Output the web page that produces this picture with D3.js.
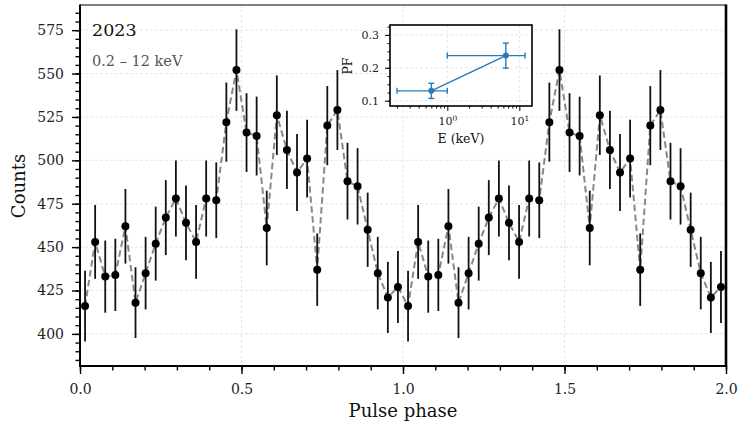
<!DOCTYPE html>
<html lang="en">
<head>
<meta charset="UTF-8">
<title>Pulse profile 2023</title>
<script src="https://d3js.org/d3.v7.min.js"></script>
<style>
  body { margin: 0; background: #fff; }
  svg text { font-family: "DejaVu Serif", serif; }
</style>
</head>
<body>
<div id="chart"></div>
<script>
// pulse profile, one cycle (32 bins), drawn twice
const counts = [416, 453, 433, 434, 462, 418, 435, 452, 467, 478, 464, 453, 478, 477, 522, 552,
                516, 514, 461, 526, 506, 493, 501, 437, 520, 529, 488, 485, 460, 435, 421, 427];
const countErr = [20.4, 21.3, 20.8, 20.8, 21.5, 20.4, 20.9, 21.3, 21.6, 21.9, 21.5, 21.3, 21.9, 21.8, 22.8, 23.5,
                  22.7, 22.7, 21.5, 22.9, 22.5, 22.2, 22.4, 20.9, 22.8, 23.0, 22.1, 22.0, 21.4, 20.9, 20.5, 20.7];
const nCycles = 2;
const xTicks = [0, 0.5, 1.0, 1.5, 2.0];
const yTicks = [400, 425, 450, 475, 500, 525, 550, 575];

// inset: pulsed fraction vs energy
const pfEnergy = [0.6, 6.5];
const pfELow = [0.2, 1.0];
const pfEHigh = [1.0, 12.0];
const pfValue = [0.130, 0.237];
const pfErr = [0.023, 0.038];
const pfTicks = [0.1, 0.2, 0.3];

const W = 738, H = 424;
const m = {left: 80, right: 726, top: 5, bottom: 366};

const svg = d3.select("#chart").append("svg")
    .attr("width", W).attr("height", H);

const x = d3.scaleLinear().domain([0, 2]).range([m.left, m.right]);
const y = d3.scaleLinear().domain([381.5, 589.5]).range([m.bottom, m.top]);

const pts = [];
for (let c = 0; c < nCycles; c++) {
    counts.forEach((v, i) => pts.push({phase: c + (i + 0.5) / counts.length, v: v, e: countErr[i]}));
}

// grid
const grid = svg.append("g").attr("stroke", "#e0e0e0").attr("stroke-width", 0.8).attr("stroke-dasharray", "3,2");
grid.selectAll(".gx").data(xTicks.slice(1, -1)).enter().append("line")
    .attr("x1", d => x(d)).attr("x2", d => x(d)).attr("y1", m.top).attr("y2", m.bottom);
grid.selectAll(".gy").data(yTicks).enter().append("line")
    .attr("x1", m.left).attr("x2", m.right).attr("y1", d => y(d)).attr("y2", d => y(d));

// axes
svg.append("g").attr("transform", `translate(0,${m.bottom})`)
    .call(d3.axisBottom(x).tickValues(xTicks).tickFormat(d3.format(".1f")).tickSize(8).tickPadding(10));
svg.append("g").attr("transform", `translate(0,${m.bottom})`)
    .call(d3.axisBottom(x).tickValues(d3.range(0, 2.01, 0.1)).tickFormat("").tickSize(4.5));
svg.append("g").attr("transform", `translate(${m.left},0)`)
    .call(d3.axisLeft(y).tickValues(yTicks).tickSize(8).tickPadding(8));
svg.append("g").attr("transform", `translate(${m.left},0)`)
    .call(d3.axisLeft(y).tickValues(d3.range(385, 590, 5)).tickFormat("").tickSize(4.5));
svg.selectAll(".domain").remove();
svg.selectAll(".tick line").attr("stroke", "#000").attr("stroke-width", 1.4);
svg.selectAll(".tick text").attr("fill", "#222").style("font-size", "14px").style("font-family", "DejaVu Serif");

// dashed profile line
svg.append("path").datum(pts)
    .attr("fill", "none").attr("stroke", "#888").attr("stroke-width", 2).attr("stroke-dasharray", "6.5,3.5")
    .attr("d", d3.line().x(d => x(d.phase)).y(d => y(d.v)));

// error bars + points
svg.append("g").selectAll("line").data(pts).enter().append("line")
    .attr("x1", d => x(d.phase)).attr("x2", d => x(d.phase))
    .attr("y1", d => y(d.v - d.e)).attr("y2", d => y(d.v + d.e))
    .attr("stroke", "#111").attr("stroke-width", 1.8);
svg.append("g").selectAll("circle").data(pts).enter().append("circle")
    .attr("cx", d => x(d.phase)).attr("cy", d => y(d.v)).attr("r", 4).attr("fill", "#000");

// spines
svg.append("line").attr("x1", m.left).attr("x2", m.right).attr("y1", m.top).attr("y2", m.top).attr("stroke", "#000").attr("stroke-width", 1.2);
svg.append("line").attr("x1", m.right).attr("x2", m.right).attr("y1", m.top - 0.6).attr("y2", m.bottom + 1).attr("stroke", "#000").attr("stroke-width", 2.6);
svg.append("line").attr("x1", m.left).attr("x2", m.left).attr("y1", m.top - 0.6).attr("y2", m.bottom + 1).attr("stroke", "#000").attr("stroke-width", 2);
svg.append("line").attr("x1", m.left - 1).attr("x2", m.right).attr("y1", m.bottom).attr("y2", m.bottom).attr("stroke", "#000").attr("stroke-width", 2);

// labels
svg.append("text").attr("x", 403).attr("y", 417).attr("text-anchor", "middle")
    .style("font-size", "18px").attr("fill", "#111").text("Pulse phase");
svg.append("text").attr("transform", `translate(24.5,186) rotate(-90)`)
    .attr("text-anchor", "middle").style("font-size", "18px").attr("fill", "#111").text("Counts");
svg.append("text").attr("x", 92).attr("y", 36).style("font-size", "17.5px").attr("fill", "#111").text("2023");
svg.append("text").attr("x", 92).attr("y", 65.5).style("font-size", "14.5px").attr("fill", "#555").text("0.2 – 12 keV");

// inset
const ins = {left: 390, right: 532, top: 25, bottom: 106};
svg.append("rect").attr("x", ins.left).attr("y", ins.top)
    .attr("width", ins.right - ins.left).attr("height", ins.bottom - ins.top).attr("fill", "#fff");
const ix = d3.scaleLog().domain([0.16, 15]).range([ins.left, ins.right]);
const iy = d3.scaleLinear().domain([0.084, 0.330]).range([ins.bottom, ins.top]);
const ig = svg.append("g");
const igrid = ig.append("g").attr("stroke", "#e0e0e0").attr("stroke-width", 0.8).attr("stroke-dasharray", "3,2");
igrid.selectAll(".a").data([1, 10]).enter().append("line")
    .attr("x1", d => ix(d)).attr("x2", d => ix(d)).attr("y1", ins.top).attr("y2", ins.bottom);
igrid.selectAll(".b").data(pfTicks).enter().append("line")
    .attr("x1", ins.left).attr("x2", ins.right).attr("y1", d => iy(d)).attr("y2", d => iy(d));

const minorE = [0.2, 0.3, 0.4, 0.5, 0.6, 0.7, 0.8, 0.9, 2, 3, 4, 5, 6, 7, 8, 9];
const exAxis = ig.append("g").attr("transform", `translate(0,${ins.bottom})`)
    .call(d3.axisBottom(ix).tickValues([1, 10]).tickSize(5).tickPadding(7).tickFormat(""));
exAxis.selectAll(".tick").append("text")
    .attr("y", 19).attr("text-anchor", "middle").attr("fill", "#222").style("font-size", "11px")
    .each(function(d) {
        const t = d3.select(this);
        t.append("tspan").text("10");
        t.append("tspan").attr("dy", -4.5).style("font-size", "7.5px").text(Math.round(Math.log10(d)));
    });
ig.append("g").attr("transform", `translate(0,${ins.bottom})`)
    .call(d3.axisBottom(ix).tickValues(minorE).tickSize(2.5).tickFormat(""));
ig.append("g").attr("transform", `translate(${ins.left},0)`)
    .call(d3.axisLeft(iy).tickValues(pfTicks).tickSize(5).tickPadding(6).tickFormat(d3.format(".1f")));
ig.append("g").attr("transform", `translate(${ins.left},0)`)
    .call(d3.axisLeft(iy).tickValues(d3.range(0.1, 0.33, 0.025)).tickSize(2.5).tickFormat(""));
ig.selectAll(".domain").remove();
ig.selectAll(".tick line").attr("stroke", "#000").attr("stroke-width", 1);
ig.selectAll(".tick > text").attr("fill", "#222").style("font-size", "11px").style("font-family", "DejaVu Serif");

const blue = "#2a7ab8";
const pf = pfValue.map((v, i) => ({e: pfEnergy[i], lo: pfELow[i], hi: pfEHigh[i], v: v, err: pfErr[i]}));
ig.append("path").datum(pf).attr("fill", "none").attr("stroke", blue).attr("stroke-width", 1.4)
    .attr("d", d3.line().x(d => ix(d.e)).y(d => iy(d.v)));
const eb = ig.append("g").attr("stroke", blue).attr("stroke-width", 1.4);
pf.forEach(d => {
    eb.append("line").attr("x1", ix(d.lo)).attr("x2", ix(d.hi)).attr("y1", iy(d.v)).attr("y2", iy(d.v));
    eb.append("line").attr("x1", ix(d.lo)).attr("x2", ix(d.lo)).attr("y1", iy(d.v) - 3).attr("y2", iy(d.v) + 3);
    eb.append("line").attr("x1", ix(d.hi)).attr("x2", ix(d.hi)).attr("y1", iy(d.v) - 3).attr("y2", iy(d.v) + 3);
    eb.append("line").attr("x1", ix(d.e)).attr("x2", ix(d.e)).attr("y1", iy(d.v - d.err)).attr("y2", iy(d.v + d.err));
    eb.append("line").attr("x1", ix(d.e) - 3).attr("x2", ix(d.e) + 3).attr("y1", iy(d.v - d.err)).attr("y2", iy(d.v - d.err));
    eb.append("line").attr("x1", ix(d.e) - 3).attr("x2", ix(d.e) + 3).attr("y1", iy(d.v + d.err)).attr("y2", iy(d.v + d.err));
});
ig.append("g").selectAll("circle").data(pf).enter().append("circle")
    .attr("cx", d => ix(d.e)).attr("cy", d => iy(d.v)).attr("r", 3).attr("fill", blue);

ig.append("rect").attr("x", ins.left).attr("y", ins.top)
    .attr("width", ins.right - ins.left).attr("height", ins.bottom - ins.top)
    .attr("fill", "none").attr("stroke", "#000").attr("stroke-width", 1.6);
ig.append("text").attr("x", (ins.left + ins.right) / 2).attr("y", 143).attr("text-anchor", "middle")
    .style("font-size", "12.5px").attr("fill", "#111").text("E (keV)");
ig.append("text").attr("transform", `translate(351.5,66) rotate(-90)`)
    .attr("text-anchor", "middle").style("font-size", "12.5px").attr("fill", "#111").text("PF");
</script>
</body>
</html>
